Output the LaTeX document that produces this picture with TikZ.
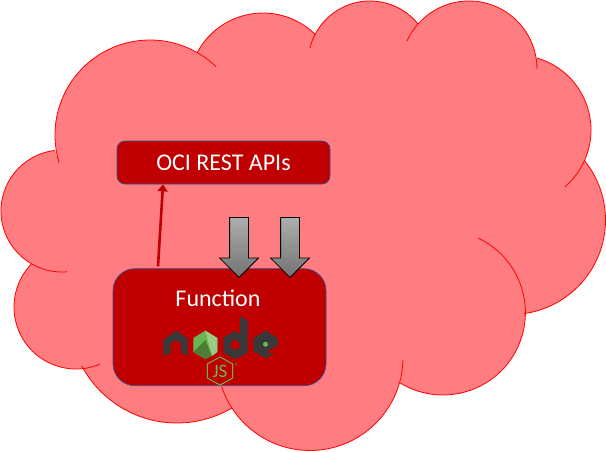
\documentclass[tikz,border=0pt]{standalone}
\usepackage{fontspec}
\usepackage{xcolor}
\setmainfont{Carlito}
\usetikzlibrary{arrows.meta,positioning,shapes.arrows}
\definecolor{cloudfill}{HTML}{FF7C80}
\definecolor{cloudline}{HTML}{FF0000}
\definecolor{boxred}{HTML}{C00000}
\definecolor{boxline}{HTML}{2F528F}
\definecolor{nodegray}{HTML}{383838}
\definecolor{nodegreen}{HTML}{6CB552}
\definecolor{jsgreen}{HTML}{70B060}
\newcommand{\cloudlobes}{150/316/95/197/46, 263/363.5/74.5/152.4/45.3, 370/388.2/61.8/166/39,
  469/382/68/155.7/0, 516/321/75/73.7/-49.3, 511/231/94.5/39/-82, 443/138.4/82.4/64.9/-122.4,
  310/93.5/93/-1.5/-161.5, 177/136/108/-59.4/-151.8, 76/144/62/-67.3/-223.7, 62/240/61/-85.3/-263.5}
\begin{document}
\begin{tikzpicture}[x=1pt,y=1pt]
    \tikzset{
      lobe/.style={draw=cloudline,line width=0.8pt},
      apibox/.style={rounded corners=8pt,draw=boxline,fill=boxred,line width=0.7pt,minimum width=213pt,minimum height=43pt,align=center,text=white,font=\fontsize{24}{28}\selectfont},
      funcbox/.style={rounded corners=22pt,draw=boxline,fill=boxred,line width=0.7pt,minimum width=213pt,minimum height=117pt},
      funclabel/.style={text=white,inner sep=0pt,font=\fontsize{24}{28}\selectfont},
      callarrow/.style={-{Triangle[length=7pt,width=10pt]},draw=boxred,line width=2.6pt},
      blockarrow/.style={shape=single arrow,shape border rotate=270,draw=black,line width=0.8pt,top color=black!32,bottom color=black!55,inner xsep=9pt,inner ysep=0pt,minimum width=38pt,minimum height=60pt,single arrow head extend=10pt,single arrow tip angle=90,anchor=tip},
      logoglyph/.style={fill=nodegray,draw=none}
    }
    \useasboundingbox (0,0) rectangle (606,451);
    % cloud: one filled outline, then each lobe on its own
    \fill[cloudfill] (197:95) ++(150,316)
      \foreach \cx/\cy/\rad/\from/\to in \cloudlobes {
        -- ([shift={(\cx,\cy)}]\from:\rad) arc[start angle=\from,end angle=\to,radius=\rad]
      } -- cycle;
    \foreach \cx/\cy/\rad/\from/\to in \cloudlobes {
      \draw[lobe] ([shift={(\cx,\cy)}]\from:\rad) arc[start angle=\from,end angle=\to,radius=\rad];
    }
    \node[apibox] (api) at (223.5,288.5) {OCI REST APIs};
    \node[funcbox,below=84pt of api,xshift=-4pt] (func) {};
    \node[funclabel] (funcname) at (218,153) {Function};
    \draw[callarrow] ([shift={(-61.5,2)}]func.north) -- ([xshift=-60.5pt]api.south);
    \node[blockarrow] (down1) at (239,173) {};
    \node[blockarrow] (down2) at (290,173) {};
    % logo, in pixel coordinates of the page
    \begin{scope}[shift={(0,451)},y=-1pt]
      \fill[logoglyph] (163.3,340) -- (176,330.7) -- (187.7,338.7) -- (187.7,356) -- (181,352.7) -- (181,343.3) -- (176,340) -- (170.7,343.3) -- (170.7,352.7) -- (163.3,356) -- cycle;
      \fill[nodegreen] (205.3,330.7) -- (217.3,338) -- (217.3,352) -- (205.3,359) -- (193.3,352) -- (193.3,338) -- cycle;
      \fill[nodegreen!70!black] (193.3,352) -- (205.3,340) -- (212,356) -- (205.3,359) -- cycle;
      \fill[nodegreen!70!white] (205.3,330.7) -- (217.3,338) -- (217.3,352) -- (212,356) -- cycle;
      \fill[logoglyph] (240,315.7) -- (247.7,321) -- (247.7,352.7) -- (235,359) -- (223.3,352.7) -- (223.3,337.7) -- (235,331) -- (240,334) -- cycle;
      \fill[boxred] (235,340) -- (239.5,342.5) -- (239.5,347.5) -- (235,350) -- (230.5,347.5) -- (230.5,342.5) -- cycle;
      \fill[logoglyph] (253.3,338.3) -- (265.7,330.7) -- (277.7,338.3) -- (277.7,345.7) -- (266,352.3) -- (274,353.7) -- (265.7,358.3) -- (253.3,351) -- cycle;
      \fill[nodegreen] (265.5,344.3) circle (2.5);
      \draw[jsgreen,line width=1pt] (220,357) -- (232.7,364) -- (232.7,378) -- (220,385) -- (207.3,378) -- (207.3,364) -- cycle;
      \node[text=jsgreen,inner sep=0pt,font=\fontsize{19}{19}\selectfont] (jsmark) at (220,371) {JS};
      \fill[jsgreen!60!boxred] (236,364) circle (1.1);
    \end{scope}
  \end{tikzpicture}
\end{document}
